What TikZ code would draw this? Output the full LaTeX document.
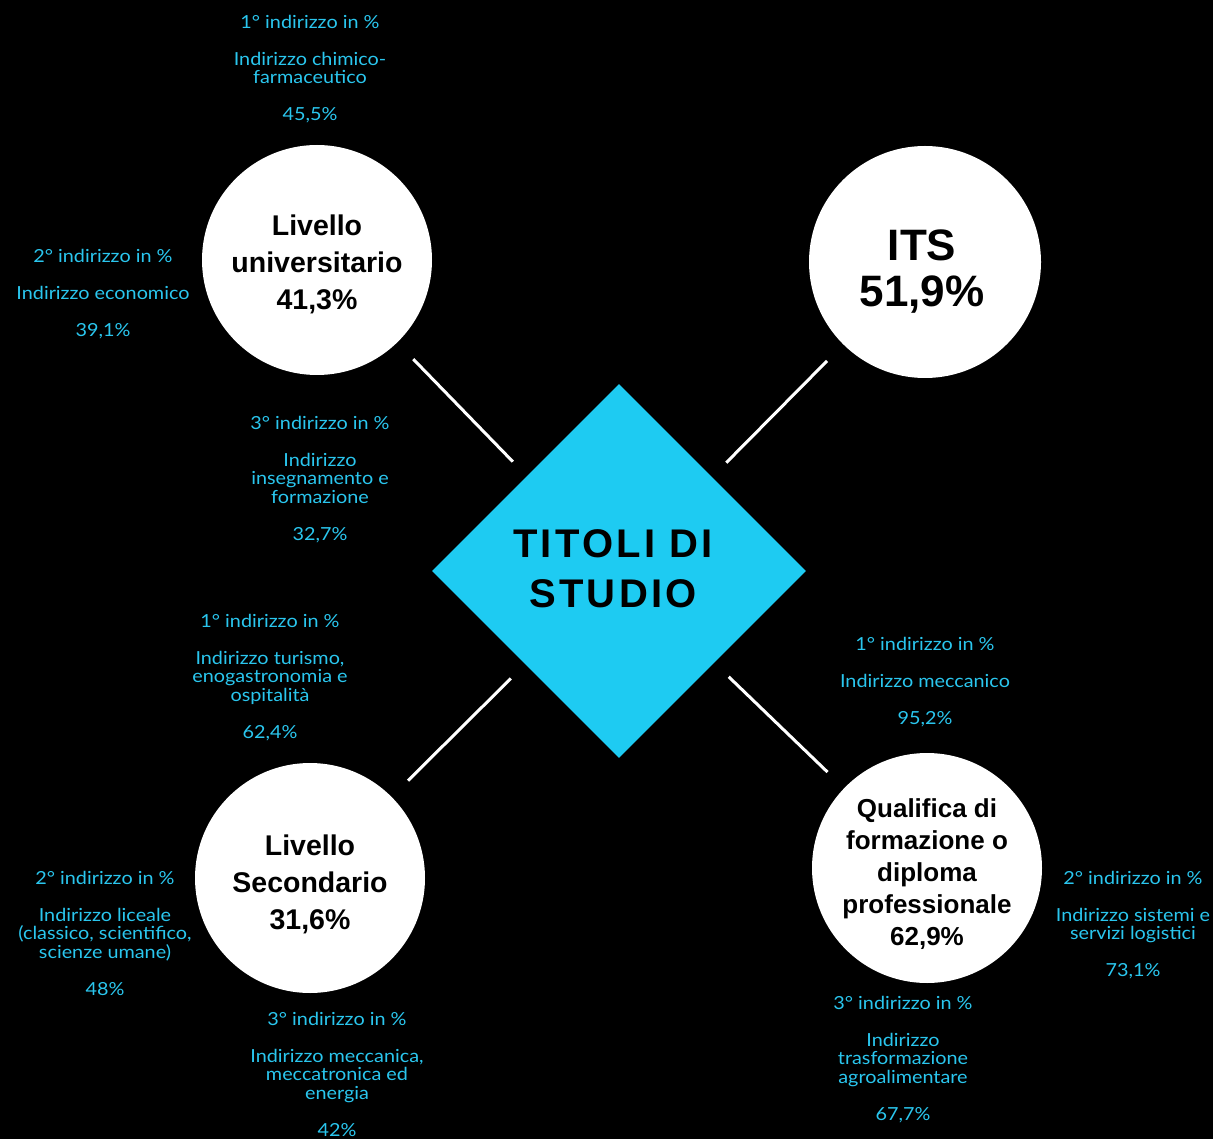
\documentclass[tikz,border=0pt]{standalone}
\usepackage{fontspec}
\setmainfont{Liberation Sans}
\newfontfamily\lato[FakeStretch=1.1]{Lato}
\newfontfamily\titlefont[LetterSpace=8]{Liberation Sans}
\usetikzlibrary{shapes.geometric}
\definecolor{diacyan}{HTML}{1ECBF2}
\definecolor{txtcyan}{HTML}{2AC6EE}
\tikzset{
  hub/.style={diamond, aspect=1, fill=diacyan, minimum width=374pt, minimum height=374pt, inner sep=0pt},
  hubtxt/.style={align=center, inner sep=0pt, font={\titlefont\bfseries\fontsize{40}{50}\selectfont}, text=black},
  bubble/.style={circle, fill=white, minimum size=230pt, inner sep=0pt},
  bubtxt/.style={align=center, inner sep=0pt, text=black},
  bigtxt/.style={font={\bfseries\fontsize{28.5}{37}\selectfont}},
  midtxt/.style={font={\bfseries\fontsize{26}{32}\selectfont}},
  hugetxt/.style={font={\bfseries\fontsize{44}{46}\selectfont}},
  info/.style={anchor=north, inner sep=0pt, align=center, text=txtcyan, font={\lato\fontsize{18}{18.5}\selectfont}},
  conn/.style={draw=white, line width=3pt, shorten <=23pt, shorten >=20pt}
}
\begin{document}
\begin{tikzpicture}[x=1pt,y=-1pt]
\fill[black] (0,0) rectangle (1213,1139);
\useasboundingbox (0,0) rectangle (1213,1139);

\node[hub] (hub) at (619,571) {};
\node[hubtxt] (hubt) at (613,569) {TITOLI DI\\STUDIO};

\node[bubble] (univ) at (317,260) {};
\node[bubtxt, bigtxt] (univt) at (317,264) {Livello\\universitario\\41,3\%};
\node[bubble, minimum size=232pt] (its) at (925,262) {};
\node[bubtxt, hugetxt] (itst) at (922,272) {ITS\\51,9\%};
\node[bubble] (sec) at (310,878) {};
\node[bubtxt, bigtxt] (sect) at (310,884) {Livello\\Secondario\\31,6\%};
\node[bubble] (qual) at (927,868) {};
\node[bubtxt, midtxt] (qualt) at (927,874) {Qualifica di\\formazione o\\diploma\\professionale\\62,9\%};

\draw[conn] (univ) -- (hub);
\draw[conn] (its) -- (hub);
\draw[conn] (sec) -- (hub);
\draw[conn] (qual) -- (hub);

\node[info] (u1) at (310,15) {1° indirizzo in \%\\[18.5pt]Indirizzo chimico-\\farmaceutico\\[18.5pt]45,5\%};
\node[info] (u2) at (103,249) {2° indirizzo in \%\\[18.5pt]Indirizzo economico\\[18.5pt]39,1\%};
\node[info] (u3) at (320,416) {3° indirizzo in \%\\[18.5pt]Indirizzo\\insegnamento e\\formazione\\[18.5pt]32,7\%};
\node[info] (s1) at (270,614) {1° indirizzo in \%\\[18.5pt]Indirizzo turismo,\\enogastronomia e\\ospitalità\\[18.5pt]62,4\%};
\node[info] (s2) at (105,871) {2° indirizzo in \%\\[18.5pt]Indirizzo liceale\\(classico, scientifico,\\scienze umane)\\[18.5pt]48\%};
\node[info] (s3) at (337,1012) {3° indirizzo in \%\\[18.5pt]Indirizzo meccanica,\\meccatronica ed\\energia\\[18.5pt]42\%};
\node[info] (q1) at (925,637) {1° indirizzo in \%\\[18.5pt]Indirizzo meccanico\\[18.5pt]95,2\%};
\node[info] (q2) at (1133,871) {2° indirizzo in \%\\[18.5pt]Indirizzo sistemi e\\servizi logistici\\[18.5pt]73,1\%};
\node[info] (q3) at (903,996) {3° indirizzo in \%\\[18.5pt]Indirizzo\\trasformazione\\agroalimentare\\[18.5pt]67,7\%};
\end{tikzpicture}
\end{document}
